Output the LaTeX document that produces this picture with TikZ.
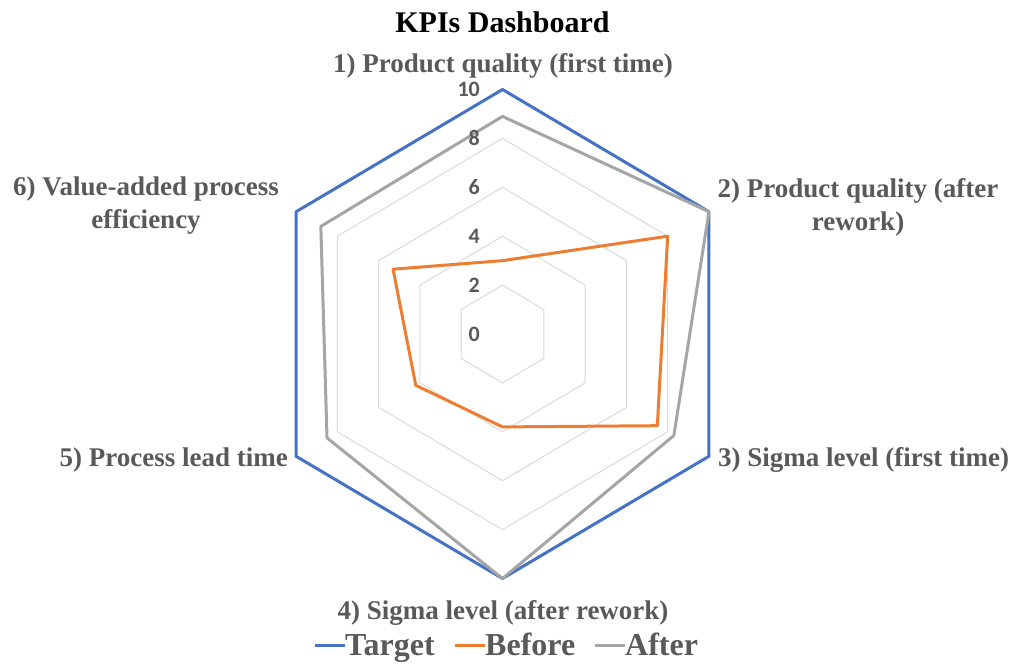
\documentclass[tikz,border=0pt]{standalone}
\usepackage{fontspec}
\setmainfont{Liberation Serif}
\newfontfamily\tickfont{Carlito}
\definecolor{targetc}{HTML}{4472C4}
\definecolor{beforec}{HTML}{ED7D31}
\definecolor{afterc}{HTML}{A5A5A5}
\definecolor{gridc}{HTML}{D9D9D9}
\definecolor{txtc}{HTML}{595959}
\begin{document}
\begin{tikzpicture}[x=1pt,y=-1pt,
  titlelabel/.style={font=\bfseries\fontsize{30}{36}\selectfont, text=black, inner sep=0pt},
  axislabel/.style={font=\bfseries\fontsize{27}{33}\selectfont, text=txtc, inner sep=0pt},
  legendlabel/.style={font=\bfseries\fontsize{32}{38}\selectfont, text=txtc, inner sep=0pt, anchor=base west},
  ticklabel/.style={font=\tickfont\bfseries\fontsize{22}{26}\selectfont, text=txtc, inner sep=0pt, anchor=east},
  gridline/.style={draw=gridc, line width=1pt, line join=round},
  series/.style={line width=3pt, line join=round},
]
\useasboundingbox (0,0) rectangle (1014,665);
\coordinate (O) at (502.5,334);

% title
\node[titlelabel, anchor=base] (title) at (502.5,32) {KPIs Dashboard};

% radar grid and series
\begin{scope}[shift={(O)}, x=23.84pt, y=24.45pt]
  \foreach \r in {2,4,6,8,10}{
    \draw[gridline] (90:\r) -- (30:\r) -- (-30:\r) -- (-90:\r) -- (-150:\r) -- (150:\r) -- cycle;
  }
  % target
  \foreach \k/\v in {1/10,2/10,3/10,4/10,5/10,6/10}{
    \coordinate (t\k) at ({90-60*(\k-1)}:\v);
  }
  % before
  \foreach \k/\v in {1/3.0,2/8.0,3/7.5,4/3.8,5/4.2,6/5.3}{
    \coordinate (b\k) at ({90-60*(\k-1)}:\v);
  }
  % after
  \foreach \k/\v in {1/8.9,2/10,3/8.3,4/10,5/8.5,6/8.8}{
    \coordinate (a\k) at ({90-60*(\k-1)}:\v);
  }
\end{scope}

\draw[series, targetc] (t1) -- (t2) -- (t3) -- (t4) -- (t5) -- (t6) -- cycle;
\draw[series, beforec] (b1) -- (b2) -- (b3) -- (b4) -- (b5) -- (b6) -- cycle;
\draw[series, afterc] (a1) -- (a2) -- (a3) -- (a4) -- (a5) -- (a6) -- cycle;

% scale labels
\foreach \v [count=\i] in {0,2,4,6,8,10}{
  \node[ticklabel] (tick\i) at (480,{334-24.45*\v}) {\v};
}

% axis labels
\node[axislabel, anchor=base] (ax1) at (503,72) {1) Product quality (first time)};
\node[axislabel, anchor=base] (ax2) at (858,197)
  {\begin{tabular}[t]{@{}c@{}}2) Product quality (after\\rework)\end{tabular}};
\node[axislabel, anchor=base west] (ax3) at (718,466) {3) Sigma level (first time)};
\node[axislabel, anchor=base] (ax4) at (503,619) {4) Sigma level (after rework)};
\node[axislabel, anchor=base east] (ax5) at (288,466) {5) Process lead time};
\node[axislabel, anchor=base] (ax6) at (146,195)
  {\begin{tabular}[t]{@{}c@{}}6) Value-added process\\efficiency\end{tabular}};

% legend
\coordinate (lt0) at (315,645); \coordinate (lt1) at (345,645);
\coordinate (lb0) at (455,645); \coordinate (lb1) at (485,645);
\coordinate (la0) at (595,645); \coordinate (la1) at (625,645);
\draw[series, targetc] (lt0) -- (lt1);
\draw[series, beforec] (lb0) -- (lb1);
\draw[series, afterc] (la0) -- (la1);
\node[legendlabel] (legT) at (345,655) {Target};
\node[legendlabel] (legB) at (485,655) {Before};
\node[legendlabel] (legA) at (625,655) {After};
\end{tikzpicture}
\end{document}
